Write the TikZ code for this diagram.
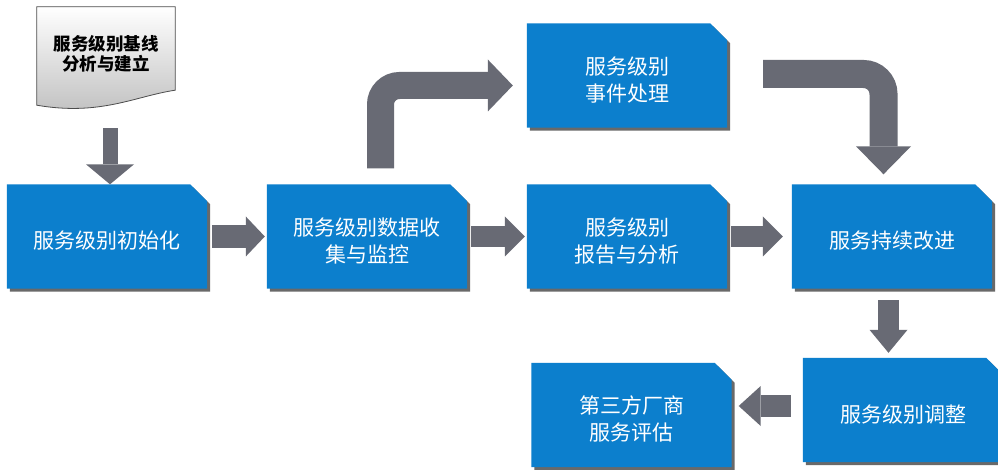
\documentclass[tikz,border=0pt]{standalone}
\usepackage{fontspec}
\setmainfont{Noto Sans CJK SC}
\usetikzlibrary{arrows.meta,calc}
\definecolor{boxblue}{RGB}{12,127,205}
\definecolor{arrgray}{RGB}{104,106,116}
\definecolor{shcol}{RGB}{105,105,105}
\pgfdeclarelayer{bg}
\pgfsetlayers{bg,main}
\newcommand\btxt[1]{\raisebox{-7pt}[\height][\depth]{\begin{tabular}{@{}c@{}}#1\end{tabular}}}
\tikzset{
  blk/.style={rectangle, minimum width=200pt, minimum height=104pt, inner sep=0pt, text=white, font=\fontsize{21}{27}\selectfont},
  garr/.style={draw=arrgray, line width=#1},
  docbox/.style={rectangle, minimum width=138pt, minimum height=94pt, inner sep=0pt, text=black, font=\bfseries\fontsize{17.5}{20}\selectfont, align=center},
}
\begin{document}
\begin{tikzpicture}[x=1pt,y=-1pt]
\useasboundingbox (0,0) rectangle (998,470);
\begin{pgfonlayer}{bg}
\fill[white] (0,0) rectangle (998,470);
\end{pgfonlayer}
% nodes
\node[docbox] (doc) at (106,54) {服务级别基线\\分析与建立};
\node[blk] (b1) at (107,236.5) {\btxt{服务级别初始化}};
\node[blk] (b2) at (367,236.5) {\btxt{服务级别数据收\\集与监控}};
\node[blk] (b3) at (627,75.5) {\btxt{服务级别\\事件处理}};
\node[blk] (b4) at (627,236.5) {\btxt{服务级别\\报告与分析}};
\node[blk] (b5) at (892,236.5) {\btxt{服务持续改进}};
\node[blk] (b6) at (903,410) {\btxt{服务级别调整}};
\node[blk] (b7) at (631.5,415) {\btxt{第三方厂商\\服务评估}};
% shapes behind text
\begin{pgfonlayer}{bg}
\foreach \n in {b1,b2,b3,b4,b5,b6,b7}{
  \fill[shcol] ([shift={(3,3)}]\n.south west) -- ([shift={(3,3)}]\n.north west) -- ([shift={(-14,3)}]\n.north east) -- ([shift={(3,20)}]\n.north east) -- ([shift={(3,3)}]\n.south east) -- cycle;
  \fill[boxblue] (\n.south west) -- (\n.north west) -- ([shift={(-17,0)}]\n.north east) -- ([shift={(0,17)}]\n.north east) -- (\n.south east) -- cycle;
}
\draw[draw=black!70, line width=0.8pt, top color=white, bottom color=black!25]
  (doc.north west) -- (doc.north east) -- ($(doc.south east)+(0,-11)$)
  .. controls ($(doc.south east)+(-40,-5)$) and ($(doc.south east)+(-75,15)$) .. ($(doc.south west)+(0,4)$) -- cycle;
\end{pgfonlayer}
% connectors
\coordinate (d0) at ($(doc.south)+(4,27)$);
\draw[garr=15pt, -{Triangle[width=48pt,length=20pt,line width=0pt]}] (d0) -- (d0 |- b1.north);
\draw[garr=23pt, -{Triangle[width=40pt,length=19pt,line width=0pt]}] ([xshift=5pt]b1.east) -- ([xshift=-2pt]b2.west);
\draw[garr=21pt, -{Triangle[width=40pt,length=20pt,line width=0pt]}] ([xshift=4pt]b2.east) -- ([xshift=-2pt]b4.west);
\draw[garr=21pt, -{Triangle[width=40pt,length=20pt,line width=0pt]}] ([xshift=4pt]b4.east) -- ([xshift=-9pt]b5.west);
\coordinate (s56) at ($(b5.south)+(-3.5,11.5)$);
\draw[garr=21pt, -{Triangle[width=38pt,length=23pt,line width=0pt]}] (s56) -- ($(s56 |- b6.north)+(0,-5)$);
\coordinate (s67) at ($(b6.west)+(-12,-4)$);
\draw[garr=22pt, -{Triangle[width=40pt,length=22pt,line width=0pt]}] (s67) -- ($(s67 -| b7.east)+(7,0)$);
\coordinate (s23) at ($(b2.north)+(13.5,-16)$);
\coordinate (e23) at ($(b3.west)+(-14,10)$);
\draw[garr=27pt, rounded corners=19pt, -{Triangle[width=52pt,length=25pt,line width=0pt]}] (s23) |- (e23);
\coordinate (s35) at ($(b3.east)+(36,-1.5)$);
\coordinate (e35) at ($(b5.north)+(-8.5,-10)$);
\draw[garr=28pt, rounded corners=20pt, -{Triangle[width=55pt,length=28pt,line width=0pt]}] (s35) -| (e35);
\end{tikzpicture}
\end{document}
